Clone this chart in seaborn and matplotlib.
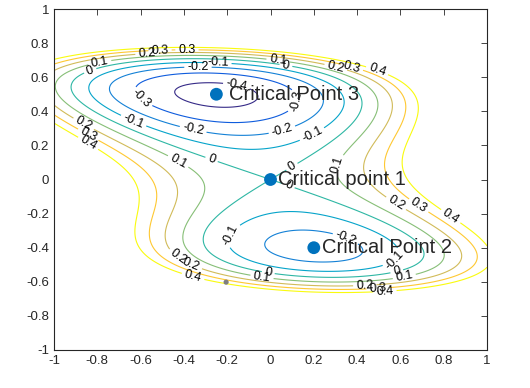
import numpy as np
import matplotlib
matplotlib.use("Agg")
import matplotlib.pyplot as plt
import seaborn as sns

# surface: f(x, y) = (x + y/2)^2 + p(y), p
p_degree = [2, 3, 4, 5, 6, 7, 8]
p_coef = [-3.3017, -0.8932, 8.4660, -0.9570, -0.2808, 1.5733, -1.4669]

levels = [-0.4, -0.3, -0.2, -0.1, 0.0, 0.1, 0.2, 0.3, 0.4]
colors = ["#352A87", "#0F5CDD", "#1481D6", "#06A4CA", "#2EB7A4",
          "#87BF77", "#D1BB59", "#FEC832", "#F9FB0E"]

pts_x = [0.0, 0.2, -0.25]
pts_y = [0.0, -0.4, 0.5]
pts_txt = ["Critical point 1", "Critical Point 2", "Critical Point 3"]
txt_dx = [0.035, 0.04, 0.058]

marker_x = [-0.205]
marker_y = [-0.602]

ticks = [-1, -0.8, -0.6, -0.4, -0.2, 0, 0.2, 0.4, 0.6, 0.8, 1]

label_pos = [(-0.788, 0.683), (-0.834, 0.642), (-0.57, 0.73), (-0.51, 0.75), (-0.386, 0.76),
             (-0.335, 0.654), (-0.243, 0.683), (-0.159, 0.537), (-0.594, 0.484),
             (-0.635, 0.337), (-0.358, 0.29), (-0.418, 0.126), (-0.27, 0.126),
             (-0.866, 0.32), (-0.843, 0.26), (-0.848, 0.2),
             (0.035, 0.70), (0.07, 0.66), (0.3, 0.65), (0.375, 0.655), (0.49, 0.63),
             (0.104, 0.466), (0.053, 0.29), (0.19, 0.27), (0.1, 0.073), (0.307, 0.085),
             (0.081, -0.044),
             (0.575, -0.15), (0.677, -0.167), (0.83, -0.22),
             (-0.165, -0.34), (0.344, -0.355),
             (0.575, -0.47), (0.584, -0.543), (0.62, -0.584),
             (0.436, -0.63), (0.497, -0.642), (0.529, -0.666),
             (-0.04, -0.578), (-0.012, -0.56),
             (-0.427, -0.455), (-0.372, -0.513), (-0.358, -0.57)]

sns.set_style("white")
plt.rcParams["font.family"] = ["Liberation Sans", "DejaVu Sans"]
plt.rcParams["axes.unicode_minus"] = False

fig = plt.figure(figsize=(5.3, 3.88), dpi=100)
ax = fig.add_axes([54/530, 1-350/388, 433/530, 341/388])

xs = np.linspace(-1, 1, 401)
X, Y = np.meshgrid(xs, xs)
P = sum(c * Y**d for c, d in zip(p_coef, p_degree))
Z = (X + Y/2)**2 + P

cs = ax.contour(X, Y, Z, levels=levels, colors=colors, linewidths=0.8)
ax.clabel(cs, fontsize=9, inline=True, fmt="%g", colors="k", manual=label_pos, inline_spacing=3)

sns.scatterplot(x=marker_x, y=marker_y, color="#7f7f7f", s=14, edgecolor="none", ax=ax, zorder=4)
sns.scatterplot(x=pts_x, y=pts_y, color="#0072BD", s=85, edgecolor="none", ax=ax, zorder=5)
for x, y, t, dx in zip(pts_x, pts_y, pts_txt, txt_dx):
    ax.text(x + dx, y, t, fontsize=14.5, va="center", ha="left", zorder=6)

ax.set_xlim(-1, 1)
ax.set_ylim(-1, 1)
ax.set_xticks(ticks)
ax.set_yticks(ticks)
ax.set_xticklabels(["%g" % t for t in ticks])
ax.set_yticklabels(["%g" % t for t in ticks])
ax.tick_params(direction="in", length=4, width=0.6, top=True, right=True,
               colors="#262626", labelsize=9.5)
for s in ax.spines.values():
    s.set_color("#262626")
    s.set_linewidth(0.8)
    s.set_visible(True)

fig.savefig("out.png", dpi=100)
